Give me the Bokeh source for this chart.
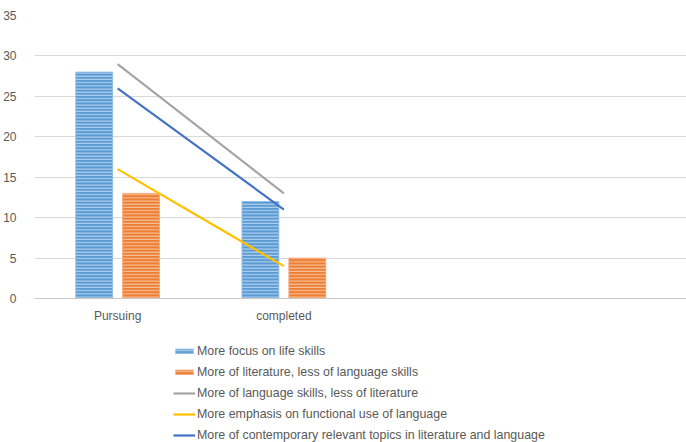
import numpy as np
from bokeh.plotting import figure
from bokeh.models import Legend, LegendItem, Range1d, FixedTicker, Span
from bokeh.core.properties import value
from bokeh.embed import file_html
from bokeh.resources import INLINE

# ---- data ----
categories = ["Pursuing", "completed"]
life_skills = [28, 12]
literature_less_language = [13, 5]
language_less_literature = [29, 13]
functional_use = [16, 4]
contemporary_topics = [26, 11]
series_names = [
    "More focus on life skills",
    "More of literature, less of language skills",
    "More of language skills, less of literature",
    "More emphasis on functional use of language",
    "More of contemporary relevant topics in literature and language",
]
y_ticks = [0, 5, 10, 15, 20, 25, 30, 35]
y_max = 35

FONT = "Liberation Sans"
TXT = "#595959"

x = np.arange(len(categories)) + 0.5

# plot area: 0..35 spans 283px, frame continues below into legend area
px_per_unit = 283 / y_max
p = figure(width=686, height=442, output_backend="svg", toolbar_location=None,
           x_axis_type=None,
           x_range=Range1d(0, 653 / 166.5), y_range=Range1d(-144 / px_per_unit, y_max),
           min_border_left=33, min_border_right=0, min_border_top=15,
           min_border_bottom=0, background_fill_color="white",
           border_fill_color="white")
p.outline_line_color = None

bw = 0.222
off = 0.141
r1 = p.vbar(x=x - off, top=life_skills, width=bw, fill_color="#5B9BD5",
            line_color="#8dbbe6", line_width=0.8,
            hatch_pattern="horizontal_line", hatch_color="white",
            hatch_alpha=0.6, hatch_scale=3.2, hatch_weight=1)
r2 = p.vbar(x=x + off, top=literature_less_language, width=bw, fill_color="#ED7D31",
            line_color="#f3a677", line_width=0.8,
            hatch_pattern="horizontal_line", hatch_color="white",
            hatch_alpha=0.6, hatch_scale=3.2, hatch_weight=1)
r3 = p.line(x, language_less_literature, line_color="#A5A5A5", line_width=2.2)
r4 = p.line(x, functional_use, line_color="#FFC000", line_width=2.2)
r5 = p.line(x, contemporary_topics, line_color="#4472C4", line_width=2.2)

# category labels under the baseline
p.text(x=x, y=[0] * len(categories), text=categories, y_offset=17,
       text_align="center", text_baseline="middle",
       text_font=value(FONT), text_font_size="12px", text_color=TXT)

# baseline (category axis line)
p.add_layout(Span(location=0, dimension="width", line_color="#c8c8c8", line_width=1))

# y axis
p.yaxis.ticker = FixedTicker(ticks=y_ticks)
p.yaxis.axis_line_color = None
p.yaxis.major_tick_line_color = None
p.yaxis.minor_tick_line_color = None
p.yaxis.major_label_standoff = 12
p.yaxis.major_label_text_font = FONT
p.yaxis.major_label_text_font_size = "12px"
p.yaxis.major_label_text_color = TXT

p.ygrid.grid_line_color = "#d9d9d9"
p.ygrid.grid_line_width = 1

renderers = [r1, r2, r3, r4, r5]
legend = Legend(items=[LegendItem(label=n, renderers=[r]) for n, r in zip(series_names, renderers)],
                location=(139, 0), orientation="vertical",
                padding=0, margin=0, spacing=6, label_height=15, glyph_height=6,
                glyph_width=22, label_standoff=2,
                label_text_font=FONT, label_text_font_size="12.4px",
                label_text_color=TXT, border_line_color=None,
                background_fill_alpha=0)
p.add_layout(legend)

open("out.html", "w").write(file_html(p, INLINE))
